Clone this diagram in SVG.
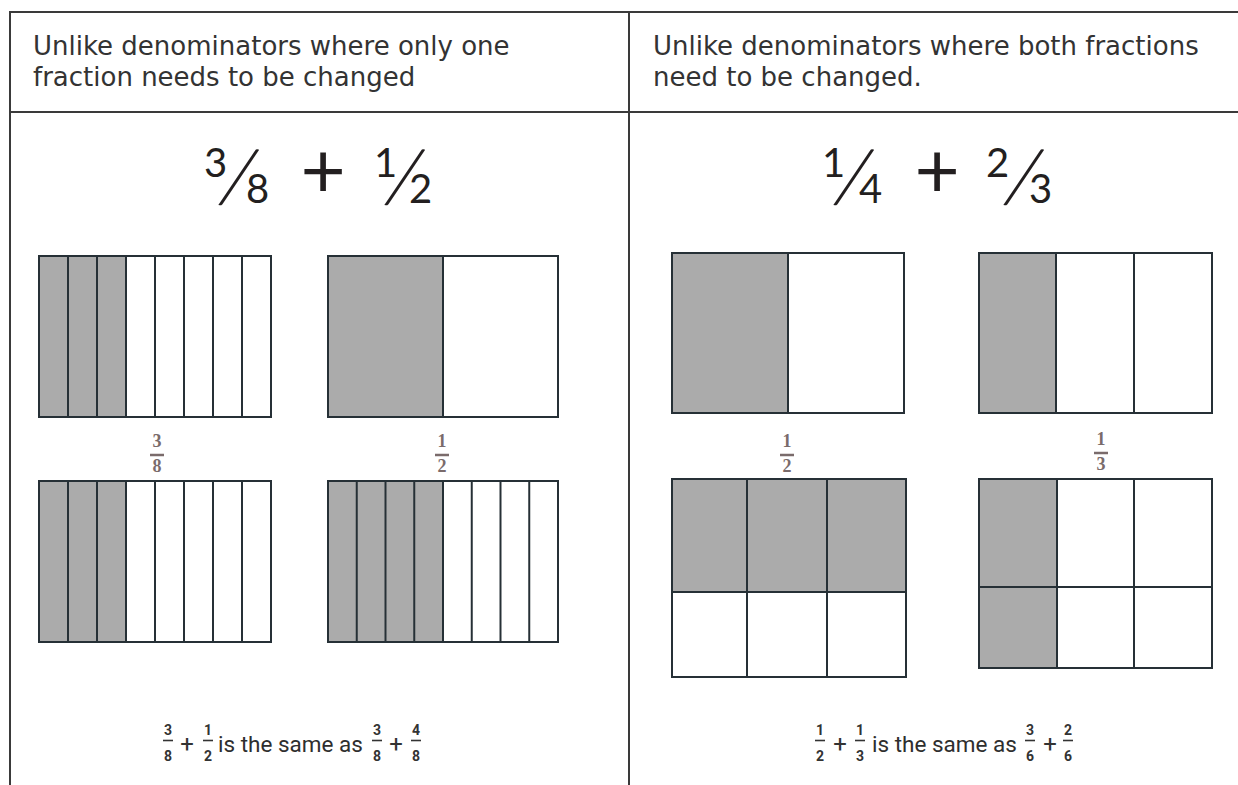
<svg xmlns="http://www.w3.org/2000/svg" width="1238" height="785" viewBox="0 0 1238 785">
<style>
.hdr{font-family:"DejaVu Sans",Verdana,sans-serif;font-size:26px;fill:#333}
.big{font-family:Lato,"Open Sans",sans-serif;font-size:40px;fill:#231f20}
.sl{font-size:81px;font-weight:300}
.pl{font-size:78px;font-weight:400}
.lab{font-family:"Liberation Serif",serif;font-size:18px;font-weight:bold;fill:#7a6b6b;text-anchor:middle}
.eq{font-family:Roboto,"Liberation Sans",sans-serif;font-size:22.5px;fill:#2e2e2e}
.sm{font-family:Roboto,"Liberation Sans",sans-serif;font-size:14px;font-weight:bold;fill:#333;text-anchor:middle}
.smp{font-family:Roboto,"Liberation Sans",sans-serif;font-size:24px;fill:#333;text-anchor:middle}
.grid{fill:#fff;stroke:#263036;stroke-width:2}
.sh{fill:#ababab}
.div{stroke:#263036;stroke-width:2}
.tab{stroke:#3a3a3a;stroke-width:2;fill:none}
.bar{stroke:#7a6b6b;stroke-width:2.5}
.sbar{stroke:#333;stroke-width:1.6}
</style>

<g id="table">
  <line class="tab" x1="10" y1="12" x2="1238" y2="12"/>
  <line class="tab" x1="10" y1="112" x2="1238" y2="112"/>
  <line class="tab" x1="10" y1="11" x2="10" y2="785"/>
  <line class="tab" x1="629" y1="11" x2="629" y2="785"/>
</g>

<g id="header-left">
  <text class="hdr" x="33" y="55">Unlike denominators where only one</text>
  <text class="hdr" x="33" y="86">fraction needs to be changed</text>
</g>
<g id="header-right">
  <text class="hdr" x="653" y="55">Unlike denominators where both fractions</text>
  <text class="hdr" x="653" y="86">need to be changed.</text>
</g>

<g id="title-left">
  <text class="big"><tspan x="204" y="177">3</tspan><tspan class="sl" x="216" y="201" rotate="11.5">/</tspan><tspan x="246" y="203">8</tspan><tspan class="pl" x="300.5" y="198">+</tspan><tspan x="374" y="177">1</tspan><tspan class="sl" x="382" y="201" rotate="11.5">/</tspan><tspan x="409" y="203">2</tspan></text>
</g>
<g id="title-right">
  <text class="big"><tspan x="822" y="177">1</tspan><tspan class="sl" x="831" y="201" rotate="11.5">/</tspan><tspan x="859" y="203">4</tspan><tspan class="pl" x="914.5" y="198">+</tspan><tspan x="986" y="177">2</tspan><tspan class="sl" x="1001" y="201" rotate="11.5">/</tspan><tspan x="1029" y="203">3</tspan></text>
</g>

<g id="model-3-8-a">
  <rect class="grid" x="39" y="256" width="232" height="161"/>
  <rect class="sh" x="40" y="257" width="86" height="159"/>
  <line class="div" x1="68" y1="256" x2="68" y2="417"/>
  <line class="div" x1="97" y1="256" x2="97" y2="417"/>
  <line class="div" x1="126" y1="256" x2="126" y2="417"/>
  <line class="div" x1="155" y1="256" x2="155" y2="417"/>
  <line class="div" x1="184" y1="256" x2="184" y2="417"/>
  <line class="div" x1="213" y1="256" x2="213" y2="417"/>
  <line class="div" x1="242" y1="256" x2="242" y2="417"/>
</g>
<g id="label-3-8">
  <text class="lab" x="157" y="447">3</text>
  <line class="bar" x1="150" y1="455" x2="164" y2="455"/>
  <text class="lab" x="157" y="472">8</text>
</g>

<g id="model-1-2-a">
  <rect class="grid" x="328" y="256" width="230" height="161"/>
  <rect class="sh" x="329" y="257" width="114" height="159"/>
  <line class="div" x1="443" y1="256" x2="443" y2="417"/>
</g>
<g id="label-1-2-a">
  <text class="lab" x="442" y="447">1</text>
  <line class="bar" x1="435" y1="455" x2="449" y2="455"/>
  <text class="lab" x="442" y="472">2</text>
</g>

<g id="model-3-8-b">
  <rect class="grid" x="39" y="481" width="232" height="161"/>
  <rect class="sh" x="40" y="482" width="86" height="159"/>
  <line class="div" x1="68" y1="481" x2="68" y2="642"/>
  <line class="div" x1="97" y1="481" x2="97" y2="642"/>
  <line class="div" x1="126" y1="481" x2="126" y2="642"/>
  <line class="div" x1="155" y1="481" x2="155" y2="642"/>
  <line class="div" x1="184" y1="481" x2="184" y2="642"/>
  <line class="div" x1="213" y1="481" x2="213" y2="642"/>
  <line class="div" x1="242" y1="481" x2="242" y2="642"/>
</g>

<g id="model-4-8">
  <rect class="grid" x="328" y="481" width="230" height="161"/>
  <rect class="sh" x="329" y="482" width="114" height="159"/>
  <line class="div" x1="356.75" y1="481" x2="356.75" y2="642"/>
  <line class="div" x1="385.5" y1="481" x2="385.5" y2="642"/>
  <line class="div" x1="414.25" y1="481" x2="414.25" y2="642"/>
  <line class="div" x1="443" y1="481" x2="443" y2="642"/>
  <line class="div" x1="471.75" y1="481" x2="471.75" y2="642"/>
  <line class="div" x1="500.5" y1="481" x2="500.5" y2="642"/>
  <line class="div" x1="529.25" y1="481" x2="529.25" y2="642"/>
</g>

<g id="equation-left">
  <text class="sm" x="168" y="735">3</text>
  <line class="sbar" x1="163" y1="740.5" x2="173" y2="740.5"/>
  <text class="sm" x="168" y="761">8</text>
  <text class="smp" x="187" y="752">+</text>
  <text class="sm" x="208" y="735">1</text>
  <line class="sbar" x1="203" y1="740.5" x2="213" y2="740.5"/>
  <text class="sm" x="208" y="761">2</text>
  <text class="eq" x="218" y="752">is the same as</text>
  <text class="sm" x="377" y="735">3</text>
  <line class="sbar" x1="372" y1="740.5" x2="382" y2="740.5"/>
  <text class="sm" x="377" y="761">8</text>
  <text class="smp" x="396" y="752">+</text>
  <text class="sm" x="416" y="735">4</text>
  <line class="sbar" x1="411" y1="740.5" x2="421" y2="740.5"/>
  <text class="sm" x="416" y="761">8</text>
</g>

<g id="model-1-2-b">
  <rect class="grid" x="672" y="253" width="232" height="160"/>
  <rect class="sh" x="673" y="254" width="115" height="158"/>
  <line class="div" x1="788" y1="253" x2="788" y2="413"/>
</g>
<g id="label-1-2-b">
  <text class="lab" x="787" y="447">1</text>
  <line class="bar" x1="780" y1="455" x2="794" y2="455"/>
  <text class="lab" x="787" y="472">2</text>
</g>

<g id="model-1-3">
  <rect class="grid" x="979" y="253" width="233" height="160"/>
  <rect class="sh" x="980" y="254" width="76" height="158"/>
  <line class="div" x1="1056" y1="253" x2="1056" y2="413"/>
  <line class="div" x1="1134" y1="253" x2="1134" y2="413"/>
</g>
<g id="label-1-3">
  <text class="lab" x="1101" y="445">1</text>
  <line class="bar" x1="1094" y1="453" x2="1108" y2="453"/>
  <text class="lab" x="1101" y="470">3</text>
</g>

<g id="model-3-6">
  <rect class="grid" x="672" y="479" width="234" height="198"/>
  <rect class="sh" x="673" y="480" width="232" height="112"/>
  <line class="div" x1="672" y1="592" x2="906" y2="592"/>
  <line class="div" x1="747" y1="479" x2="747" y2="677"/>
  <line class="div" x1="827" y1="479" x2="827" y2="677"/>
</g>

<g id="model-2-6">
  <rect class="grid" x="979" y="479" width="233" height="189"/>
  <rect class="sh" x="980" y="480" width="77" height="187"/>
  <line class="div" x1="979" y1="587" x2="1212" y2="587"/>
  <line class="div" x1="1057" y1="479" x2="1057" y2="668"/>
  <line class="div" x1="1134" y1="479" x2="1134" y2="668"/>
</g>

<g id="equation-right">
  <text class="sm" x="820" y="735">1</text>
  <line class="sbar" x1="815" y1="740.5" x2="825" y2="740.5"/>
  <text class="sm" x="820" y="761">2</text>
  <text class="smp" x="840" y="752">+</text>
  <text class="sm" x="860" y="735">1</text>
  <line class="sbar" x1="855" y1="740.5" x2="865" y2="740.5"/>
  <text class="sm" x="860" y="761">3</text>
  <text class="eq" x="872" y="752">is the same as</text>
  <text class="sm" x="1030" y="735">3</text>
  <line class="sbar" x1="1025" y1="740.5" x2="1035" y2="740.5"/>
  <text class="sm" x="1030" y="761">6</text>
  <text class="smp" x="1050" y="752">+</text>
  <text class="sm" x="1068" y="735">2</text>
  <line class="sbar" x1="1063" y1="740.5" x2="1073" y2="740.5"/>
  <text class="sm" x="1068" y="761">6</text>
</g>
</svg>
